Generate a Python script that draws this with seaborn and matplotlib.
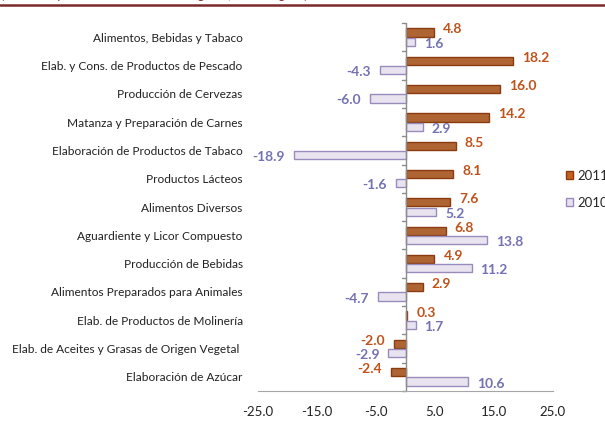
import matplotlib
matplotlib.use('Agg')
import matplotlib.pyplot as plt
from matplotlib.lines import Line2D
from matplotlib.patches import Patch
import numpy as np
import pandas as pd
import seaborn as sns

categories = [
    'Alimentos, Bebidas y Tabaco',
    'Elab. y Cons. de Productos de Pescado',
    'Producción de Cervezas',
    'Matanza y Preparación de Carnes',
    'Elaboración de Productos de Tabaco',
    'Productos Lácteos',
    'Alimentos Diversos',
    'Aguardiente y Licor Compuesto',
    'Producción de Bebidas',
    'Alimentos Preparados para Animales',
    'Elab. de Productos de Molinería',
    'Elab. de Aceites y Grasas de Origen Vegetal ',
    'Elaboración de Azúcar',
]
values_2011 = [4.8, 18.2, 16.0, 14.2, 8.5, 8.1, 7.6, 6.8, 4.9, 2.9, 0.3, -2.0, -2.4]
values_2010 = [1.6, -4.3, -6.0, 2.9, -18.9, -1.6, 5.2, 13.8, 11.2, -4.7, 1.7, -2.9, 10.6]
years = ['2011', '2010']
x_ticks = [-25, -15, -5, 5, 15, 25]
title = '(variación porcentual acumulada a agosto, serie original)'

orange = '#C4601E'
orange_edge = '#8A3C10'
orange_text = '#C0521A'
purple = '#E9E1F2'
purple_edge = '#9A8CBA'
purple_text = '#7472B2'


def build_frame():
    rows = []
    for cat, a, b in zip(categories, values_2011, values_2010):
        rows.append({'categoria': cat, 'anio': '2011', 'valor': a})
        rows.append({'categoria': cat, 'anio': '2010', 'valor': b})
    return pd.DataFrame(rows)


def label_bars(ax, container, values, color, dy):
    for bar, v in zip(container, values):
        y = bar.get_y() + bar.get_height() / 2
        dx = 9 if v >= 0 else -9
        ax.annotate(f'{v:.1f}', (v, y), xytext=(dx, dy), textcoords='offset pixels',
                    ha='left' if v >= 0 else 'right', va='center',
                    color=color, fontsize=10, fontweight='bold')


sns.set_style('white')
plt.rcParams['font.family'] = ['Lato', 'DejaVu Sans']

fig = plt.figure(figsize=(6.05, 4.24), dpi=100)
ax = fig.add_axes([258 / 605, 33 / 424, 295 / 605, 368 / 424])

df = build_frame()
sns.barplot(data=df, y='categoria', x='valor', hue='anio', hue_order=years,
            palette=[orange, purple], orient='y', width=0.66, gap=0.12,
            legend=False, ax=ax, errorbar=None)

for container, edge in zip(ax.containers, [orange_edge, purple_edge]):
    for bar in container:
        bar.set_edgecolor(edge)
        bar.set_linewidth(1.0)

label_bars(ax, ax.containers[0], values_2011, orange_text, 3)
label_bars(ax, ax.containers[1], values_2010, purple_text, -2)

ax.set_xlim(-25, 25)
ax.set_ylim(len(categories) - 0.5, -0.5)
ax.set_xticks(x_ticks)
ax.set_xticklabels([f'{t:.1f}' for t in x_ticks], fontsize=9.5, color='#222222')
ax.tick_params(axis='x', length=0, pad=11)
ax.tick_params(axis='y', length=0, pad=11, labelsize=8.6, labelcolor='#222222')
ax.set_xlabel('')
ax.set_ylabel('')

for side in ['left', 'right', 'top']:
    ax.spines[side].set_visible(False)
ax.spines['bottom'].set_color('#A6A6A6')

# eje vertical en cero con marcas entre categorias
ax.axvline(0, color='#8C8C8C', lw=1, zorder=1)
for b in np.arange(len(categories) + 1) - 0.5:
    ax.plot([-0.6, 0], [b, b], color='#8C8C8C', lw=1, clip_on=False)

handles = [Patch(facecolor=orange, edgecolor=orange_edge),
           Patch(facecolor=purple, edgecolor=purple_edge)]
fig.legend(handles, years, loc='upper left', bbox_to_anchor=(559 / 605, 1 - 163 / 424),
           frameon=False, fontsize=9.5, handlelength=0.55, handleheight=0.55,
           handletextpad=0.35, labelspacing=1.15, borderpad=0)

fig.text(0.002, 1 + 1 / 424, title, color='#8B2E2E', fontsize=9, va='baseline')
fig.add_artist(Line2D([0, 1], [1 - 5 / 424, 1 - 5 / 424], transform=fig.transFigure,
                      color='#7B2A2A', lw=1.8))

fig.savefig('out.png', dpi=100)
